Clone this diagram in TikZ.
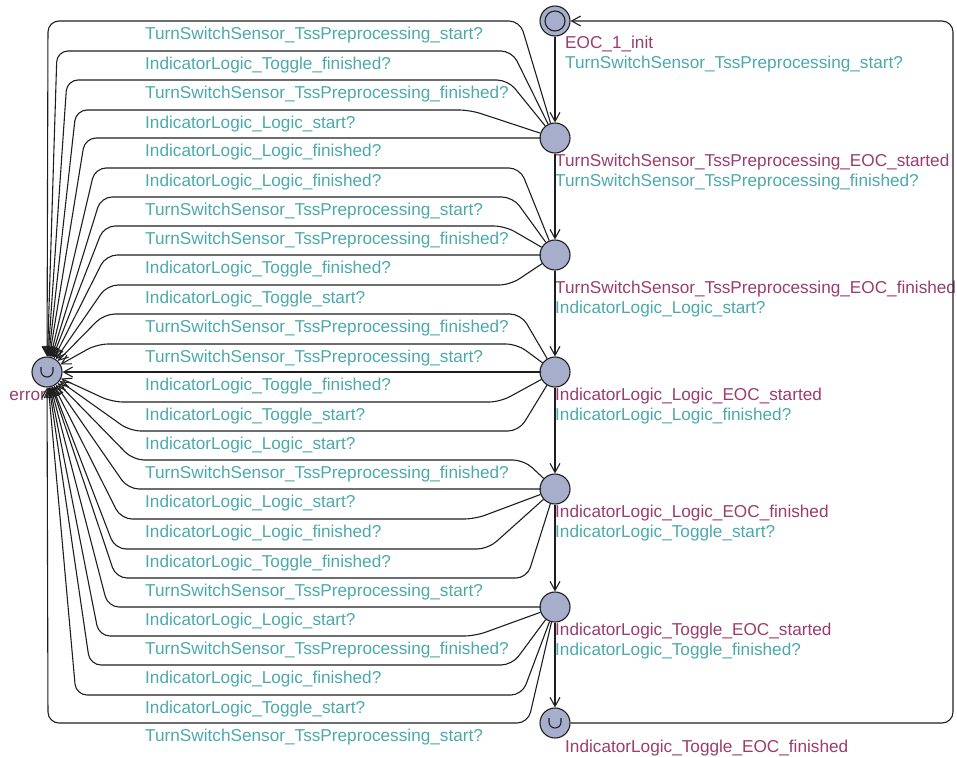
\documentclass[tikz,border=0pt]{standalone}
\usepackage{fontspec}
\setmainfont{Liberation Sans}
\usetikzlibrary{arrows.meta}
\definecolor{locfill}{HTML}{A6AECC}
\definecolor{syncclr}{HTML}{4BA9AB}
\definecolor{nameclr}{HTML}{9B3C6C}
\definecolor{linec}{HTML}{1E1E1E}
\begin{document}
\begin{tikzpicture}[x=1pt,y=-1pt,
  font=\fontsize{17.2}{20}\selectfont,
  loc/.style={circle,draw=linec,fill=locfill,line width=1.1pt,minimum size=30pt,inner sep=0pt},
  edge/.style={draw=linec,line width=1.1pt,rounded corners=11pt,
    -{Straight Barb[length=9pt,width=10pt,line width=1.1pt]}},
  sync/.style={text=syncclr,anchor=base west,inner sep=0pt},
  lname/.style={text=nameclr,anchor=base west,inner sep=0pt},
  cup/.pic={\draw[draw=linec,line width=1.1pt] (-6,-5) -- (-6,-1)
    arc[start angle=180,end angle=0,radius=6] -- (6,-5);}]
\useasboundingbox (0,0) rectangle (957,756);

% locations
\node[loc] (init) at (555,21) {};
\draw[draw=linec,line width=1.1pt] (init.center) circle[radius=10];
\node[loc] (S1) at (555,138) {};
\node[loc] (S2) at (555,255) {};
\node[loc] (S3) at (555,372) {};
\node[loc] (S4) at (555,489) {};
\node[loc] (S5) at (555,607) {};
\node[loc] (S6) at (555,723) {};
\node[loc] (err) at (47,372) {};
\pic at (S6.center) {cup};
\pic at (err.center) {cup};

% location names and the synchronisations of the main chain
\node[lname] (n0) at (565,48) {EOC\_1\_init};
\node[sync]  (g0) at (565,68) {TurnSwitchSensor\_TssPreprocessing\_start?};
\node[lname] (n1) at (555,166) {TurnSwitchSensor\_TssPreprocessing\_EOC\_started};
\node[sync]  (g1) at (555,186) {TurnSwitchSensor\_TssPreprocessing\_finished?};
\node[lname] (n2) at (555,293) {TurnSwitchSensor\_TssPreprocessing\_EOC\_finished};
\node[sync]  (g2) at (555,313) {IndicatorLogic\_Logic\_start?};
\node[lname] (n3) at (555,400) {IndicatorLogic\_Logic\_EOC\_started};
\node[sync]  (g3) at (555,420) {IndicatorLogic\_Logic\_finished?};
\node[lname] (n4) at (555,517) {IndicatorLogic\_Logic\_EOC\_finished};
\node[sync]  (g4) at (555,537) {IndicatorLogic\_Toggle\_start?};
\node[lname] (n5) at (555,635) {IndicatorLogic\_Toggle\_EOC\_started};
\node[sync]  (g5) at (555,655) {IndicatorLogic\_Toggle\_finished?};
\node[lname] (n6) at (565,752) {IndicatorLogic\_Toggle\_EOC\_finished};
\node[text=nameclr,anchor=base east,inner sep=0pt] (nerr) at (46,400) {error};

% main chain
\draw[edge] (init) -- (S1);
\draw[edge] (S1) -- (S2);
\draw[edge] (S2) -- (S3);
\draw[edge] (S3) -- (S4);
\draw[edge] (S4) -- (S5);
\draw[edge] (S5) -- (S6);
\draw[edge] (S6) -- (953,723) -- (953,21) -- (init);

% unexpected events lead to the error location
\foreach \s/\rx/\ly/\lx/\lab in {
  S1/520/21/48/{TurnSwitchSensor\_TssPreprocessing\_start?},
  S1/512/51/57/{IndicatorLogic\_Toggle\_finished?},
  S1/508/80/67/{TurnSwitchSensor\_TssPreprocessing\_finished?},
  S1/470/110/76/{IndicatorLogic\_Logic\_start?},
  S1/530/138/85/{IndicatorLogic\_Logic\_finished?},
  S2/520/168/95/{IndicatorLogic\_Logic\_finished?},
  S2/513/197/101/{TurnSwitchSensor\_TssPreprocessing\_start?},
  S2/505/226/104/{TurnSwitchSensor\_TssPreprocessing\_finished?},
  S2/530/255/106/{IndicatorLogic\_Toggle\_finished?},
  S2/510/285/107/{IndicatorLogic\_Toggle\_start?},
  S3/521/314/104/{TurnSwitchSensor\_TssPreprocessing\_finished?},
  S3/517/344/97/{TurnSwitchSensor\_TssPreprocessing\_start?},
  S3/530/372/100/{IndicatorLogic\_Toggle\_finished?},
  S3/500/402/112/{IndicatorLogic\_Toggle\_start?},
  S3/519/431/130/{IndicatorLogic\_Logic\_start?},
  S4/524/460/133/{TurnSwitchSensor\_TssPreprocessing\_finished?},
  S4/530/489/128/{IndicatorLogic\_Logic\_start?},
  S4/475/519/121/{IndicatorLogic\_Logic\_finished?},
  S4/488/549/115/{IndicatorLogic\_Toggle\_finished?},
  S4/527/578/116/{TurnSwitchSensor\_TssPreprocessing\_start?},
  S5/530/607/108/{IndicatorLogic\_Logic\_start?},
  S5/475/636/99/{TurnSwitchSensor\_TssPreprocessing\_finished?},
  S5/512/665/90/{IndicatorLogic\_Logic\_finished?},
  S5/522/695/76/{IndicatorLogic\_Toggle\_start?},
  S5/528/723/48/{TurnSwitchSensor\_TssPreprocessing\_start?}} {
  \draw[edge] (\s) -- (\rx,\ly) -- (\lx,\ly) -- (err);
  \node[sync] (lab\ly) at (145,\ly+18) {\lab};
}
\end{tikzpicture}
\end{document}
